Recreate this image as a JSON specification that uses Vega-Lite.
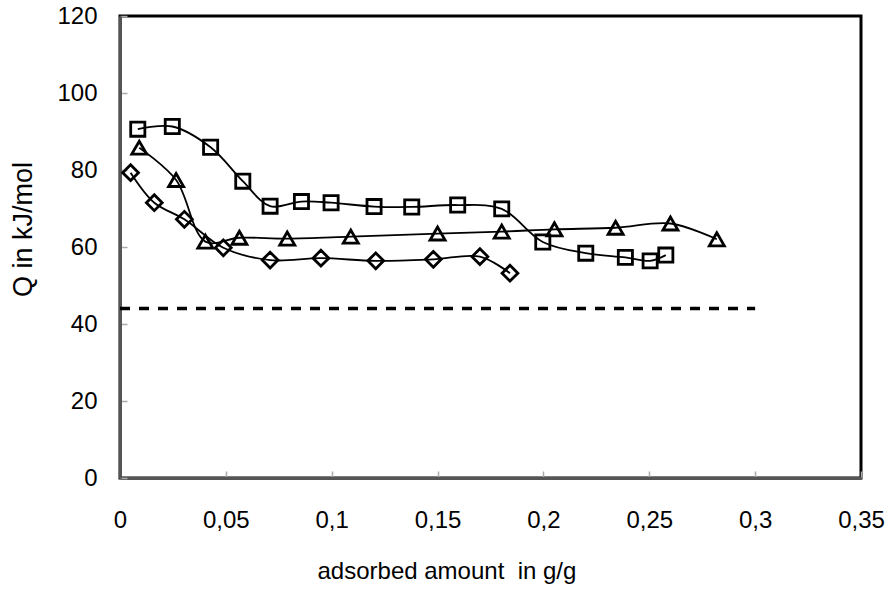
{
  "$schema": "https://vega.github.io/schema/vega-lite/v6.json",
  "width": 741,
  "height": 462,
  "autosize": {"type": "none"},
  "padding": {"left": 120, "top": 16, "right": 30, "bottom": 112},
  "background": "white",
  "config": {
    "font": "Liberation Sans",
    "view": {"stroke": "black", "strokeWidth": 3},
    "axis": {
      "grid": false,
      "domainColor": "#555555",
      "domainWidth": 3,
      "tickColor": "#aaaaaa",
      "tickWidth": 1.5,
      "tickSize": -7,
      "labelColor": "black",
      "labelFont": "Liberation Sans",
      "labelFontSize": 24,
      "labelFlush": false,
      "labelOverlap": false,
      "titleColor": "black",
      "titleFont": "Liberation Sans",
      "titleFontSize": 24,
      "titleFontWeight": "normal",
      "zindex": 1
    }
  },
  "datasets": {
    "curves": [
      {"series": "square", "x": 0.0084, "y": 90.6},
      {"series": "square", "x": 0.0247, "y": 91.3},
      {"series": "square", "x": 0.0428, "y": 85.9},
      {"series": "square", "x": 0.058, "y": 77.1},
      {"series": "square", "x": 0.0709, "y": 70.6},
      {"series": "square", "x": 0.0857, "y": 71.8},
      {"series": "square", "x": 0.0997, "y": 71.5},
      {"series": "square", "x": 0.120, "y": 70.5},
      {"series": "square", "x": 0.1378, "y": 70.4},
      {"series": "square", "x": 0.1595, "y": 70.9},
      {"series": "square", "x": 0.1803, "y": 69.9},
      {"series": "square", "x": 0.1997, "y": 61.3},
      {"series": "square", "x": 0.220, "y": 58.4},
      {"series": "square", "x": 0.2387, "y": 57.3},
      {"series": "square", "x": 0.2504, "y": 56.4},
      {"series": "square", "x": 0.2578, "y": 57.9},
      {"series": "triangle", "x": 0.0091, "y": 85.8},
      {"series": "triangle", "x": 0.0265, "y": 77.4},
      {"series": "triangle", "x": 0.0403, "y": 61.4},
      {"series": "triangle", "x": 0.0564, "y": 62.4},
      {"series": "triangle", "x": 0.079, "y": 62.2},
      {"series": "triangle", "x": 0.109, "y": 62.7},
      {"series": "triangle", "x": 0.150, "y": 63.5},
      {"series": "triangle", "x": 0.1803, "y": 64.0},
      {"series": "triangle", "x": 0.2052, "y": 64.6},
      {"series": "triangle", "x": 0.2341, "y": 65.0},
      {"series": "triangle", "x": 0.260, "y": 66.1},
      {"series": "triangle", "x": 0.2819, "y": 62.0},
      {"series": "diamond", "x": 0.0050, "y": 79.3},
      {"series": "diamond", "x": 0.0162, "y": 71.5},
      {"series": "diamond", "x": 0.0304, "y": 67.2},
      {"series": "diamond", "x": 0.0488, "y": 59.8},
      {"series": "diamond", "x": 0.0709, "y": 56.6},
      {"series": "diamond", "x": 0.0949, "y": 57.1},
      {"series": "diamond", "x": 0.1208, "y": 56.4},
      {"series": "diamond", "x": 0.148, "y": 56.8},
      {"series": "diamond", "x": 0.170, "y": 57.5},
      {"series": "diamond", "x": 0.1842, "y": 53.2}
    ],
    "reference": [
      {"x": 0.0, "y": 44},
      {"x": 0.3, "y": 44}
    ]
  },
  "layer": [
    {
      "data": {"name": "reference"},
      "mark": {"type": "line", "color": "black", "strokeWidth": 3.5, "strokeDash": [10, 9]},
      "encoding": {
        "x": {"field": "x", "type": "quantitative"},
        "y": {"field": "y", "type": "quantitative"}
      }
    },
    {
      "data": {"name": "curves"},
      "mark": {"type": "line", "color": "black", "strokeWidth": 1.8, "interpolate": "catmull-rom"},
      "encoding": {
        "x": {"field": "x", "type": "quantitative"},
        "y": {"field": "y", "type": "quantitative"},
        "detail": {"field": "series", "type": "nominal"}
      }
    },
    {
      "data": {"name": "curves"},
      "mark": {"type": "point", "filled": false, "color": "black", "strokeWidth": 2.8, "opacity": 1},
      "encoding": {
        "x": {
          "field": "x", "type": "quantitative",
          "scale": {"domain": [0, 0.35], "nice": false, "zero": false},
          "axis": {
            "values": [0, 0.05, 0.1, 0.15, 0.2, 0.25, 0.3, 0.35],
            "format": ".2~f",
            "labelExpr": "replace(datum.label, '.', ',')",
            "labelPadding": 37,
            "title": "adsorbed amount\u00a0 in g/g",
            "titleAlign": "left",
            "titleBaseline": "alphabetic",
            "titleX": 197,
            "titleY": 100
          }
        },
        "y": {
          "field": "y", "type": "quantitative",
          "scale": {"domain": [0, 120], "nice": false},
          "axis": {
            "values": [0, 10, 20, 30, 40, 50, 60, 70, 80, 90, 100, 110, 120],
            "labelExpr": "datum.value % 20 == 0 ? datum.label : ''",
            "labelPadding": 30,
            "title": "Q in kJ/mol",
            "titleFontSize": 27,
            "titleAlign": "center",
            "titleBaseline": "alphabetic",
            "titleAngle": 270,
            "titleX": -89,
            "titleY": 213
          }
        },
        "shape": {
          "field": "series", "type": "nominal",
          "scale": {"domain": ["square", "triangle", "diamond"], "range": ["square", "triangle-up", "diamond"]},
          "legend": null
        },
        "size": {
          "field": "series", "type": "nominal",
          "scale": {"domain": ["square", "triangle", "diamond"], "range": [200, 250, 280]},
          "legend": null
        }
      }
    }
  ]
}
